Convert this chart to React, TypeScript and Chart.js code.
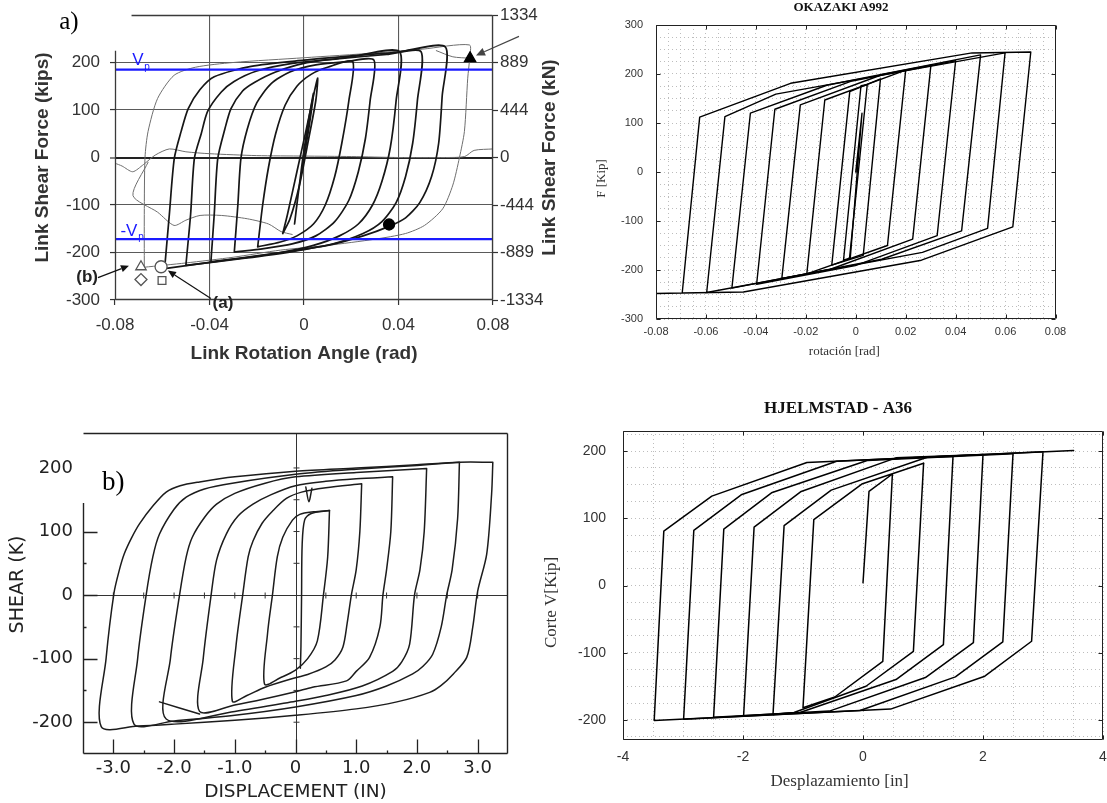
import React, { useEffect, useRef } from 'react';
import { Chart, registerables } from 'chart.js';

type P = [number, number];

const SANS = '"Liberation Sans", Arial, Helvetica, sans-serif';
const SERIF = '"Liberation Serif", "Times New Roman", Times, serif';
const LETTER = '"DejaVu Sans", Verdana, sans-serif';
const NB = '\u00A0';

/* ---------------- a) Okazaki link test (experimental) ---------------- */
const aXTicks = [-0.08, -0.04, 0, 0.04, 0.08];
const aXLabels = ['-0.08', '-0.04', '0', '0.04', '0.08'];
const aYTicks = [300, 200, 100, 0, -100, -200, -300];
const aYLabels = ['', '200', '100', '0', '-100', '-200', '-300'];
const aKNLabels = ['1334', '889', '444', '0', '-444', '-889', '-1334'];
const aVp = 185;
const aVpNeg = -172;

const aLoop0: P[] = [[-0.004, -140], [-0.001, -20], [0.002, 80], [0.004, 135], [0.002, 60], [-0.002, -60], [-0.004, -140]];
const aLoop1: P[] = [[-0.009, -160], [-0.007, -120], [-0.003, -30], [0.001, 60], [0.004, 130], [0.0058, 167], [0.005, 120], [0.002, 40], [-0.002, -60], [-0.006, -130], [-0.009, -160]];
const aLoop2: P[] = [[-0.0196, -188], [-0.0175, -100], [-0.015, -20], [-0.012, 50], [-0.008, 110], [-0.003, 150], [0.003, 175], [0.01, 190], [0.0206, 202], [0.019, 120], [0.016, 30], [0.013, -40], [0.009, -100], [0.004, -140], [-0.003, -165], [-0.01, -178], [-0.0196, -188]];
const aLoop3: P[] = [[-0.0295, -199], [-0.028, -100], [-0.0267, -2], [-0.024, 60], [-0.02, 115], [-0.014, 155], [-0.006, 180], [0.005, 195], [0.018, 202], [0.0296, 205], [0.028, 120], [0.026, 40], [0.023, -30], [0.019, -90], [0.013, -135], [0.005, -165], [-0.005, -182], [-0.017, -192], [-0.0295, -199]];
const aLoop4: P[] = [[-0.0394, -219], [-0.038, -120], [-0.0365, -2], [-0.0335, 60], [-0.0309, 103], [-0.026, 140], [-0.021, 158], [-0.012, 180], [0, 198], [0.02, 212], [0.0404, 223], [0.039, 120], [0.0365, 20], [0.033, -50], [0.029, -100], [0.023, -140], [0.015, -165], [0.004, -185], [-0.01, -200], [-0.025, -211], [-0.0394, -219]];
const aLoop5: P[] = [[-0.05, -227], [-0.048, -120], [-0.0464, -2], [-0.0435, 50], [-0.0408, 97], [-0.035, 138], [-0.0296, 160], [-0.02, 182], [-0.005, 198], [0.015, 208], [0.035, 217], [0.0495, 223], [0.048, 120], [0.046, 30], [0.043, -40], [0.039, -95], [0.033, -135], [0.025, -160], [0.012, -182], [-0.005, -198], [-0.025, -212], [-0.05, -227]];
const aLoop6: P[] = [[-0.059, -234], [-0.057, -120], [-0.0549, -2], [-0.052, 55], [-0.049, 103], [-0.044, 143], [-0.038, 170], [-0.0224, 192], [0, 205], [0.02, 214], [0.04, 222], [0.0598, 233], [0.0585, 130], [0.057, 30], [0.054, -40], [0.049, -95], [0.043, -127], [0.036, -145], [0.025, -165], [0.01, -185], [-0.01, -200], [-0.03, -214], [-0.059, -234]];
const aLoop7: P[] = [[-0.0676, -231], [-0.0676, -120], [-0.0673, 0], [-0.066, 55], [-0.062, 124], [-0.055, 173], [-0.046, 190], [-0.03, 200], [0, 210], [0.03, 220], [0.05, 228], [0.07, 237], [0.0701, 209], [0.0693, 167], [0.0679, 55], [0.0658, 0], [0.063, -58], [0.0587, -108], [0.051, -143], [0.043, -160], [0.03, -172], [0.01, -185], [-0.01, -195], [-0.03, -210], [-0.05, -222], [-0.0676, -231]];
const aAfter1: P[] = [[-0.08, -12], [-0.077, -18], [-0.0725, -30], [-0.068, -15], [-0.063, 5], [-0.057, 18], [-0.05, 12], [-0.04, 8], [-0.02, 4], [0, 3], [0.02, 2], [0.04, 0], [0.06, 0], [0.068, 2], [0.072, 15], [0.08, 18]];
const aAfter2: P[] = [[-0.066, -10], [-0.0724, -80], [-0.062, -115], [-0.055, -143], [-0.05, -132], [-0.044, -122], [-0.035, -122], [-0.024, -129], [-0.015, -140], [-0.0097, -156], [-0.005, -162]];
const aTopTail: P[] = [[0.056, 225], [0.063, 212], [0.0701, 209]];
const aOpenTriangle: P[] = [[-0.069, -230]];
const aOpenCircle: P[] = [[-0.0605, -230]];
const aOpenDiamond: P[] = [[-0.069, -257]];
const aOpenSquare: P[] = [[-0.0601, -259]];
const aFailTriangle: P[] = [[0.0703, 209]];
const aFailDot: P[] = [[0.036, -141]];

/* ---------------- OKAZAKI A992 (model) ---------------- */
const bXLabels = [-0.08, -0.06, -0.04, -0.02, 0, 0.02, 0.04, 0.06, 0.08];
const bYLabels = [-300, -200, -100, 0, 100, 200, 300];
const bInit: P[] = [[0, 0], [0.0025, 120], [-0.0022, -176], [0.0025, 120]];
const bLoop005: P[] = [[-0.0049, -180], [0.0021, 176], [0.0046, 178], [-0.0025, -176], [-0.0049, -180]];
const bLoop01: P[] = [[-0.0096, -190], [-0.0024, 164], [0.0099, 190], [0.003, -170], [-0.0096, -190]];
const bLoop02: P[] = [[-0.0196, -208], [-0.0124, 147], [0.02, 208], [0.0127, -150], [-0.0196, -208]];
const bLoop03: P[] = [[-0.0296, -217], [-0.0222, 137], [0.0107, 199], [0.0301, 218], [0.0228, -137], [-0.0104, -199], [-0.0296, -217]];
const bLoop04: P[] = [[-0.0397, -229], [-0.0324, 128], [-0.002, 185], [0.04, 227], [0.0326, -130], [-0.0002, -191], [-0.0397, -229]];
const bLoop05: P[] = [[-0.0496, -237], [-0.0422, 120], [-0.0116, 177], [0.05, 239], [0.0424, -120], [0.0104, -178], [-0.0496, -237]];
const bLoop06: P[] = [[-0.0597, -246], [-0.0524, 113], [-0.032, 159], [0.0598, 243], [0.0528, -115], [0.0267, -164], [-0.0597, -246]];
const bLoop07: P[] = [[-0.0695, -247], [-0.0625, 112], [-0.0261, 181], [0.0466, 243], [0.0701, 245], [0.0629, -112], [0.0263, -180], [-0.045, -245], [-0.0695, -247], [-0.08, -248]];

/* ---------------- b) Hjelmstad test (experimental) ---------------- */
const cXTicks = [-3, -2, -1, 0, 1, 2, 3];
const cXLabels = ['-3.0', '-2.0', '-1.0', '0', '1.0', '2.0', '3.0'];
const cXMinor = [-2.5, -1.5, -0.5, 0.5, 1.5, 2.5];
const cYTicks = [200, 100, 0, -100, -200];
const cYLabels = ['200', '100', '0', '-100', '-200'];
const cYMinor = [50, -50, -150];
const cCrossX = [-3, -2.5, -2, -1.5, -1, -0.5, 0.5, 1, 1.5, 2, 2.5, 3];
const cCrossY = [-200, -150, -100, -50, 50, 100, 150, 200];
const cLoop0: P[] = [[0.08, -115], [0.09, -80], [0.1, 0], [0.11, 80], [0.15, 118], [0.25, 128], [0.56, 133]];
const cLoop1: P[] = [[0.56, 133], [0.53, 60], [0.46, 0], [0.36, -72], [0.2, -100], [0, -118], [-0.25, -130], [-0.51, -140], [-0.46, -60], [-0.38, 0], [-0.3, 60], [-0.21, 91], [-0.05, 118], [0.07, 127], [0.3, 131], [0.56, 133]];
const cLoop2: P[] = [[1.09, 175], [1.06, 100], [1.0, 40], [0.92, 0], [0.85, -45], [0.78, -82], [0.65, -102], [0.5, -113], [0.2, -125], [0, -130], [-0.5, -145], [-0.8, -158], [-1.04, -167], [-0.98, -80], [-0.87, 0], [-0.78, 60], [-0.7, 85], [-0.55, 113], [-0.38, 132], [-0.15, 152], [0.1, 162], [0.5, 169], [1.09, 175]];
const cLoop3: P[] = [[1.6, 186], [1.57, 100], [1.5, 40], [1.44, 0], [1.39, -50], [1.22, -98], [1.0, -120], [0.84, -135], [0.28, -145], [0, -152], [-0.5, -163], [-1.0, -173], [-1.58, -183], [-1.52, -100], [-1.39, 0], [-1.3, 55], [-1.14, 96], [-0.95, 124], [-0.7, 143], [-0.4, 158], [0, 172], [0.5, 179], [1.0, 183], [1.6, 186]];
const cLoop4: P[] = [[2.16, 199], [2.12, 100], [2.05, 40], [1.96, 0], [1.88, -77], [1.75, -105], [1.6, -120], [1.1, -143], [0.5, -158], [0, -167], [-1.0, -183], [-2.13, -195], [-2.06, -100], [-1.91, 0], [-1.8, 60], [-1.7, 91], [-1.5, 122], [-1.3, 143], [-1.0, 160], [-0.5, 176], [0, 186], [1.0, 193], [2.16, 199]];
const cLoop5: P[] = [[2.7, 209], [2.67, 120], [2.58, 40], [2.49, 0], [2.4, -50], [2.26, -93], [2.1, -112], [1.93, -124], [1.5, -143], [1.0, -158], [0, -176], [-1.0, -189], [-2.0, -198], [-2.66, -203], [-2.6, -100], [-2.46, 0], [-2.35, 60], [-2.24, 96], [-2.0, 135], [-1.8, 154], [-1.5, 167], [-1.04, 176], [0, 190], [1.0, 198], [2.0, 204], [2.7, 209]];
const cLoop6: P[] = [[3.25, 209], [3.23, 159], [3.15, 65], [3.0, 6], [2.92, -50], [2.82, -98], [2.6, -124], [2.4, -142], [2.21, -153], [1.67, -168], [1.0, -179], [0, -189], [-1.0, -197], [-2.0, -203], [-2.6, -206], [-3.2, -207], [-3.12, -100], [-2.99, 3], [-2.9, 40], [-2.82, 65], [-2.7, 90], [-2.57, 112], [-2.35, 140], [-2.13, 162], [-1.9, 172], [-1.58, 178], [-1.0, 186], [0, 195], [1.0, 200], [2.0, 205], [2.7, 209], [3.25, 209]];
const cExtra: P[] = [[-2.24, -168], [-1.58, -187]];
const cNotch: P[] = [[0.17, 170], [0.22, 147], [0.27, 168]];

/* ---------------- HJELMSTAD - A36 (model) ---------------- */
const dXLabels = [-4, -2, 0, 2, 4];
const dYLabels = [-200, -100, 0, 100, 200];
const dCycle1: P[] = [[0, 4], [0.1, 140], [0.49, 166], [0.33, -113], [-0.47, -166], [-1.0, -182], [-0.82, 98], [-0.02, 151], [1.01, 182]];
const dCycle2: P[] = [[1.01, 182], [0.84, -98], [0.05, -150], [-1.15, -189], [-1.5, -192], [-1.315, 89], [-0.53, 142], [1.07, 191], [1.5, 192]];
const dCycle3: P[] = [[1.5, 192], [1.34, -88], [0.55, -140], [-1.05, -189], [-1.99, -194], [-1.815, 87], [-1.03, 140], [0.55, 190], [2.0, 195]];
const dCycle4: P[] = [[2.0, 195], [1.84, -85], [1.04, -137], [-0.56, -187], [-2.49, -196], [-2.32, 84], [-1.525, 138], [0.07, 186], [2.5, 196]];
const dCycle5: P[] = [[2.5, 196], [2.33, -84], [1.54, -136], [-0.05, -186], [-2.99, -199], [-2.82, 82], [-2.03, 135], [-0.44, 185], [3.0, 199]];
const dCycle6: P[] = [[3.0, 199], [2.81, -83], [2.03, -135], [0.46, -184], [-3.48, -201], [-3.32, 81], [-2.52, 133], [-0.935, 183], [3.51, 201]];

/* ---------------- helpers ---------------- */
const xy = (pts: P[]) => pts.map(([x, y]) => ({ x, y }));

function line(pts: P[], color: string, width: number, tension = 0): any {
  return {
    data: xy(pts), showLine: true, borderColor: color, backgroundColor: color, borderWidth: width,
    pointRadius: 0, pointHoverRadius: 0, pointHitRadius: 0, tension, fill: false,
    borderCapStyle: 'round', borderJoinStyle: 'round',
  };
}

function marker(pts: P[], style: string, r: number, stroke: string, fillCol: string): any {
  return {
    data: xy(pts), showLine: false, pointStyle: style, pointRadius: r, pointHoverRadius: r,
    pointBorderColor: stroke, pointBackgroundColor: fillCol, pointBorderWidth: 1.3,
    borderColor: stroke, backgroundColor: fillCol,
  };
}

const fitX = (h: number, padR: number) => (s: any) => { s.height = h; s.paddingLeft = 0; s.paddingRight = padR; };
const fitY = (w: number) => (s: any) => { s.width = w; s.paddingTop = 0; s.paddingBottom = 0; };
const fixedTicks = (vals: number[]) => (s: any) => { s.ticks = vals.map((value) => ({ value })); };
const stepTicks = (from: number, to: number, step: number) => (s: any) => {
  const t: any[] = [];
  const n = Math.round((to - from) / step);
  for (let i = 0; i <= n; i++) t.push({ value: +(from + i * step).toFixed(6) });
  s.ticks = t;
};
const majorOnly = (vals: number[], fmt: (v: number) => string) => (v: any) => {
  const n = Number(v);
  const hit = vals.find((t) => Math.abs(t - n) < 1e-7);
  return hit === undefined ? '' : fmt(hit);
};
const fmtRot = (v: number) => (v === 0 ? '0' : v.toFixed(2));

const base = () => ({ responsive: false, animation: false, devicePixelRatio: 1, events: [] as string[] });

/* ---------------- decoration plugin (frames, inner ticks, notes) ---------------- */
const decor: any = {
  id: 'decor',
  beforeDatasetsDraw(chart: any, _a: any, o: any) {
    const c = o && o.cross;
    if (!c) return;
    const ctx = chart.ctx, ca = chart.chartArea, xs = chart.scales.x, ys = chart.scales.y;
    const X = Math.round(xs.getPixelForValue(c.x)) + 0.5;
    const Y = Math.round(ys.getPixelForValue(c.y)) + 0.5;
    ctx.save();
    ctx.strokeStyle = c.color; ctx.lineWidth = c.width;
    ctx.beginPath();
    ctx.moveTo(X, ca.top); ctx.lineTo(X, ca.bottom);
    ctx.moveTo(ca.left, Y); ctx.lineTo(ca.right, Y);
    for (const v of c.xTicks) { const p = xs.getPixelForValue(v); ctx.moveTo(p, Y - c.len); ctx.lineTo(p, Y + c.len); }
    for (const v of c.yTicks) { const p = ys.getPixelForValue(v); ctx.moveTo(X - c.len, p); ctx.lineTo(X + c.len, p); }
    ctx.stroke();
    ctx.restore();
  },
  afterDraw(chart: any, _a: any, o: any) {
    if (!o) return;
    const ctx = chart.ctx, ca = chart.chartArea, xs = chart.scales.x, ys = chart.scales.y;
    ctx.save();
    const L = Math.round(ca.left) + 0.5, R = Math.round(ca.right) - 0.5;
    const T = Math.round(ca.top) + 0.5, B = Math.round(ca.bottom) - 0.5;
    if (o.frame) {
      const f = o.frame;
      const topStart = f.topFrom != null ? xs.getPixelForValue(f.topFrom) : L;
      const leftStart = f.leftFrom != null ? ys.getPixelForValue(f.leftFrom) : T;
      ctx.strokeStyle = f.color; ctx.lineWidth = f.width;
      ctx.beginPath();
      ctx.moveTo(topStart, T); ctx.lineTo(R, T);
      ctx.moveTo(R, T); ctx.lineTo(R, B);
      ctx.moveTo(L, B); ctx.lineTo(R, B);
      ctx.moveTo(L, leftStart); ctx.lineTo(L, B);
      ctx.stroke();
    }
    for (const t of o.inTicks || []) {
      ctx.strokeStyle = t.color; ctx.lineWidth = t.width || 1;
      ctx.beginPath();
      for (const v of t.values) {
        if (t.axis === 'x') {
          const p = Math.round(xs.getPixelForValue(v)) + 0.5;
          if (t.sides.includes('bottom')) { ctx.moveTo(p, B); ctx.lineTo(p, B - t.len); }
          if (t.sides.includes('top')) { ctx.moveTo(p, T); ctx.lineTo(p, T + t.len); }
        } else {
          const p = Math.round(ys.getPixelForValue(v)) + 0.5;
          if (t.sides.includes('left')) { ctx.moveTo(L, p); ctx.lineTo(L + t.len, p); }
          if (t.sides.includes('right')) { ctx.moveTo(R, p); ctx.lineTo(R - t.len, p); }
        }
      }
      ctx.stroke();
    }
    for (const a of o.arrows || []) {
      const x1 = xs.getPixelForValue(a.x1), y1 = ys.getPixelForValue(a.y1);
      const x2 = xs.getPixelForValue(a.x2), y2 = ys.getPixelForValue(a.y2);
      const ang = Math.atan2(y2 - y1, x2 - x1), h = a.head;
      const bx = x2 - h * Math.cos(ang), by = y2 - h * Math.sin(ang);
      ctx.strokeStyle = a.color; ctx.fillStyle = a.color; ctx.lineWidth = a.width;
      ctx.beginPath(); ctx.moveTo(x1, y1); ctx.lineTo(bx, by); ctx.stroke();
      ctx.beginPath();
      ctx.moveTo(x2, y2);
      ctx.lineTo(bx + h * 0.45 * Math.sin(ang), by - h * 0.45 * Math.cos(ang));
      ctx.lineTo(bx - h * 0.45 * Math.sin(ang), by + h * 0.45 * Math.cos(ang));
      ctx.closePath(); ctx.fill();
    }
    for (const t of o.texts || []) {
      const X = xs.getPixelForValue(t.x), Y = ys.getPixelForValue(t.y);
      ctx.save();
      ctx.translate(X, Y);
      if (t.rot) ctx.rotate(t.rot);
      ctx.font = t.font; ctx.fillStyle = t.color;
      ctx.textAlign = t.align || 'center'; ctx.textBaseline = 'middle';
      ctx.fillText(t.text, 0, 0);
      ctx.restore();
    }
    ctx.restore();
  },
};

Chart.register(...registerables, decor);

/* ---------------- chart configs ---------------- */
function cfgA(): any {
  const thick = (p: P[]) => line(p, '#161616', 1.7, 0.25);
  const thin = (p: P[]) => line(p, '#6e6e6e', 1, 0.25);
  const xMin = aXTicks[0], xMax = aXTicks[aXTicks.length - 1];
  const blue = '#1a1aff';
  const txt = '#333';
  return {
    type: 'scatter',
    data: {
      datasets: [
        marker(aFailTriangle, 'triangle', 6.5, '#000', '#000'),
        marker(aFailDot, 'circle', 5.5, '#000', '#000'),
        marker(aOpenTriangle, 'triangle', 6, '#555', '#fff'),
        marker(aOpenCircle, 'circle', 6, '#555', '#fff'),
        marker(aOpenDiamond, 'rectRot', 6, '#555', '#fff'),
        marker(aOpenSquare, 'rect', 5.5, '#555', '#fff'),
        line([[xMin, aVp], [xMax, aVp]], blue, 2.2),
        line([[xMin, aVpNeg], [xMax, aVpNeg]], blue, 2.2),
        ...[aLoop0, aLoop1, aLoop2, aLoop3, aLoop4, aLoop5, aLoop6].map(thick),
        ...[aLoop7, aAfter1, aAfter2, aTopTail].map(thin),
      ],
    },
    options: {
      ...base(),
      layout: { padding: { top: 15, left: 0, right: 0, bottom: 0 } },
      plugins: {
        legend: { display: false }, tooltip: { enabled: false },
        decor: {
          frame: { color: '#3a3a3a', width: 1.3, topFrom: -0.073, leftFrom: 225 },
          arrows: [
            { x1: -0.0872, y1: -253, x2: -0.0741, y2: -228, color: '#111', width: 1.2, head: 8 },
            { x1: -0.0394, y1: -297, x2: -0.0576, y2: -238, color: '#111', width: 1.2, head: 8 },
            { x1: 0.091, y1: 255, x2: 0.0728, y2: 215, color: '#444', width: 1.1, head: 9 },
          ],
          texts: [
            { text: 'a)', x: -0.0995, y: 285, font: `25px ${SERIF}`, color: '#000' },
            { text: 'V', x: -0.0703, y: 204, font: `17px ${SANS}`, color: blue },
            { text: 'p', x: -0.0664, y: 191, font: `10px ${SANS}`, color: blue },
            { text: '-V', x: -0.0741, y: -156, font: `17px ${SANS}`, color: blue },
            { text: 'p', x: -0.0690, y: -168, font: `10px ${SANS}`, color: blue },
            { text: '(b)', x: -0.0918, y: -253, font: `bold 17px ${SANS}`, color: '#222' },
            { text: '(a)', x: -0.0343, y: -308, font: `bold 17px ${SANS}`, color: '#222' },
            { text: 'Link Shear Force (kN)', x: 0.1041, y: 0, font: `bold 19px ${SANS}`, color: txt, rot: -Math.PI / 2 },
          ],
        },
      },
      scales: {
        x: {
          type: 'linear', min: xMin, max: xMax,
          afterBuildTicks: fixedTicks(aXTicks), afterFit: fitX(75, 0),
          border: { display: false },
          grid: {
            color: (c: any) => (c.tick && c.tick.value === xMin ? 'rgba(0,0,0,0)' : '#5a5a5a'),
            lineWidth: 1.1, drawTicks: true, tickLength: 5, tickColor: '#333', tickWidth: 1.2,
          },
          ticks: { autoSkip: false, maxRotation: 0, padding: 9.8, color: txt, font: { family: SANS, size: 17 }, callback: (_v: any, i: number) => aXLabels[i] },
          title: { display: true, text: 'Link Rotation Angle (rad)', color: txt, font: { family: SANS, size: 19, weight: 'bold' }, padding: { top: 0, bottom: 9.6 } },
        },
        y: {
          type: 'linear', position: 'left', min: -300, max: 300,
          afterBuildTicks: fixedTicks(aYTicks), afterFit: fitY(115),
          border: { display: false },
          grid: {
            color: (c: any) => { const v = c.tick ? c.tick.value : NaN; return v === 300 ? 'rgba(0,0,0,0)' : v === 0 ? '#222' : '#5a5a5a'; },
            lineWidth: (c: any) => (c.tick && c.tick.value === 0 ? 2 : 1.1),
            drawTicks: true, tickLength: 5, tickWidth: 1.2,
            tickColor: (c: any) => (c.tick && c.tick.value === 300 ? 'rgba(0,0,0,0)' : '#333'),
          },
          ticks: { autoSkip: false, padding: 10, color: txt, font: { family: SANS, size: 17 }, callback: (_v: any, i: number) => aYLabels[i] },
          title: { display: true, text: 'Link Shear Force (kips)', color: txt, font: { family: SANS, size: 19, weight: 'bold' }, padding: { top: 31.6, bottom: 0 } },
        },
        y2: {
          type: 'linear', position: 'right', min: -300, max: 300,
          afterBuildTicks: fixedTicks(aYTicks), afterFit: fitY(82),
          border: { display: false },
          grid: { drawOnChartArea: false, drawTicks: true, tickLength: 5, tickColor: '#333', tickWidth: 1.2 },
          ticks: { autoSkip: false, padding: 2, color: txt, font: { family: SANS, size: 17 }, callback: (_v: any, i: number) => aKNLabels[i] },
        },
      },
    },
  };
}

function cfgB(): any {
  const ink = (p: P[]) => line(p, '#000', 1.4, 0);
  const txt = '#333';
  return {
    type: 'scatter',
    data: { datasets: [bInit, bLoop005, bLoop01, bLoop02, bLoop03, bLoop04, bLoop05, bLoop06, bLoop07].map(ink) },
    options: {
      ...base(),
      layout: { padding: 0 },
      plugins: {
        legend: { display: false }, tooltip: { enabled: false },
        title: { display: true, text: 'OKAZAKI A992', color: '#111', font: { family: SERIF, size: 13, weight: 'bold' }, padding: { top: 0.2, bottom: 9.2 } },
        decor: {
          frame: { color: '#222', width: 1 },
          inTicks: [
            { axis: 'x', values: bXLabels, len: 4, sides: ['top', 'bottom'], color: '#222' },
            { axis: 'y', values: bYLabels, len: 4, sides: ['left', 'right'], color: '#222' },
          ],
        },
      },
      scales: {
        x: {
          type: 'linear', min: bXLabels[0], max: bXLabels[bXLabels.length - 1],
          afterBuildTicks: stepTicks(bXLabels[0], bXLabels[bXLabels.length - 1], 0.005), afterFit: fitX(56, 51.5),
          border: { display: false, dash: [1, 3] },
          grid: { color: '#bdbdbd', lineWidth: 1, drawTicks: false },
          ticks: { autoSkip: false, maxRotation: 0, padding: 6.4, color: txt, font: { family: SANS, size: 11 }, callback: majorOnly(bXLabels, fmtRot) },
          title: { display: true, text: 'rotación [rad]' + NB.repeat(7), color: txt, font: { family: SERIF, size: 13 }, padding: { top: 0, bottom: 15.2 } },
        },
        y: {
          type: 'linear', min: -300, max: 300,
          afterBuildTicks: stepTicks(-300, 300, 25), afterFit: fitY(81),
          border: { display: false, dash: [1, 3] },
          grid: { color: '#bdbdbd', lineWidth: 1, drawTicks: false },
          ticks: { autoSkip: false, padding: 13, color: txt, font: { family: SANS, size: 11 }, callback: majorOnly(bYLabels, String) },
          title: { display: true, text: 'F [Kip]' + NB.repeat(4), color: txt, font: { family: SERIF, size: 13 }, padding: { top: 19.2, bottom: 0 } },
        },
      },
    },
  };
}

function cfgC(): any {
  const ink = (p: P[]) => line(p, '#1c1c1c', 1.5, 0.3);
  const txt = '#222';
  return {
    type: 'scatter',
    data: { datasets: [cLoop0, cLoop1, cLoop2, cLoop3, cLoop4, cLoop5, cLoop6, cExtra, cNotch].map(ink) },
    options: {
      ...base(),
      layout: { padding: { top: 38, left: 0, right: 0, bottom: 0 } },
      plugins: {
        legend: { display: false }, tooltip: { enabled: false },
        decor: {
          cross: { x: 0, y: 0, xTicks: cCrossX, yTicks: cCrossY, len: 3, color: '#333', width: 1 },
          frame: { color: '#222', width: 1.4, leftFrom: 145 },
          inTicks: [
            { axis: 'x', values: cXTicks, len: 14, sides: ['bottom'], color: '#222', width: 1.3 },
            { axis: 'x', values: cXMinor, len: 3, sides: ['bottom'], color: '#222', width: 1.3 },
            { axis: 'y', values: cYTicks.filter((v) => v < 145), len: 14, sides: ['left'], color: '#222', width: 1.3 },
            { axis: 'y', values: cYMinor, len: 3, sides: ['left'], color: '#222', width: 1.3 },
          ],
          texts: [{ text: 'b)', x: -3.0, y: 176, font: `27px ${SERIF}`, color: '#000' }],
        },
      },
      scales: {
        x: {
          type: 'linear', min: -3.5, max: 3.5,
          afterBuildTicks: fixedTicks(cXTicks), afterFit: fitX(49, 32),
          border: { display: false }, grid: { display: false, drawTicks: false },
          ticks: { autoSkip: false, maxRotation: 0, padding: 3.2, color: txt, font: { family: LETTER, size: 18 }, callback: (_v: any, i: number) => cXLabels[i] },
          title: { display: true, text: 'DISPLACEMENT (IN)', color: txt, font: { family: LETTER, size: 18.5 }, padding: { top: 0, bottom: 0.2 } },
        },
        y: {
          type: 'linear', min: -250, max: 255,
          afterBuildTicks: fixedTicks(cYTicks), afterFit: fitY(83),
          border: { display: false }, grid: { display: false, drawTicks: false },
          ticks: { autoSkip: false, padding: 10, color: txt, font: { family: LETTER, size: 18 }, callback: (_v: any, i: number) => cYLabels[i] },
          title: { display: true, text: NB.repeat(3) + 'SHEAR (K)', color: txt, font: { family: LETTER, size: 19 }, padding: { top: 6.6, bottom: 0 } },
        },
      },
    },
  };
}

function cfgD(): any {
  const ink = (p: P[]) => line(p, '#000', 1.5, 0);
  const txt = '#333';
  return {
    type: 'scatter',
    data: { datasets: [dCycle1, dCycle2, dCycle3, dCycle4, dCycle5, dCycle6].map(ink) },
    options: {
      ...base(),
      layout: { padding: 0 },
      plugins: {
        legend: { display: false }, tooltip: { enabled: false },
        title: { display: true, text: 'HJELMSTAD - A36', color: '#111', font: { family: SERIF, size: 17, weight: 'bold' }, padding: { top: 3.8, bottom: 11.8 } },
        decor: {
          frame: { color: '#222', width: 1 },
          inTicks: [
            { axis: 'x', values: dXLabels, len: 4, sides: ['top', 'bottom'], color: '#222' },
            { axis: 'y', values: dYLabels, len: 4, sides: ['left', 'right'], color: '#222' },
          ],
        },
      },
      scales: {
        x: {
          type: 'linear', min: dXLabels[0], max: dXLabels[dXLabels.length - 1],
          afterBuildTicks: stepTicks(dXLabels[0], dXLabels[dXLabels.length - 1], 0.5), afterFit: fitX(63, 33),
          border: { display: false, dash: [1, 3] },
          grid: { color: '#bdbdbd', lineWidth: 1, drawTicks: false },
          ticks: { autoSkip: false, maxRotation: 0, padding: 8.6, color: txt, font: { family: SANS, size: 14 }, callback: majorOnly(dXLabels, String) },
          title: { display: true, text: 'Desplazamiento [in]' + NB.repeat(11), color: txt, font: { family: SERIF, size: 17 }, padding: { top: 0, bottom: 10.8 } },
        },
        y: {
          type: 'linear', min: -230, max: 230,
          afterBuildTicks: stepTicks(-225, 225, 25), afterFit: fitY(83),
          border: { display: false, dash: [1, 3] },
          grid: { color: '#bdbdbd', lineWidth: 1, drawTicks: false },
          ticks: { autoSkip: false, padding: 17, color: txt, font: { family: SANS, size: 14 }, callback: majorOnly(dYLabels, String) },
          title: { display: true, text: 'Corte V[Kip]' + NB.repeat(8), color: txt, font: { family: SERIF, size: 17 }, padding: { top: 1.8, bottom: 0 } },
        },
      },
    },
  };
}

function ChartCanvas(props: { make: () => any; left: number; top: number; width: number; height: number }) {
  const ref = useRef<HTMLCanvasElement>(null);
  useEffect(() => {
    const chart = new Chart(ref.current as HTMLCanvasElement, props.make());
    return () => chart.destroy();
  }, []);
  return (
    <canvas
      ref={ref}
      width={props.width}
      height={props.height}
      style={{ position: 'absolute', left: props.left, top: props.top, width: props.width, height: props.height }}
    />
  );
}

export default function App() {
  return (
    <div style={{ position: 'absolute', left: 0, top: 0, width: 1107, height: 803, overflow: 'hidden', background: '#fff' }}>
      <ChartCanvas make={cfgA} left={0} top={0} width={575} height={375} />
      <ChartCanvas make={cfgB} left={575} top={0} width={532} height={375} />
      <ChartCanvas make={cfgC} left={0} top={395} width={540} height={408} />
      <ChartCanvas make={cfgD} left={540} top={395} width={596} height={408} />
    </div>
  );
}
